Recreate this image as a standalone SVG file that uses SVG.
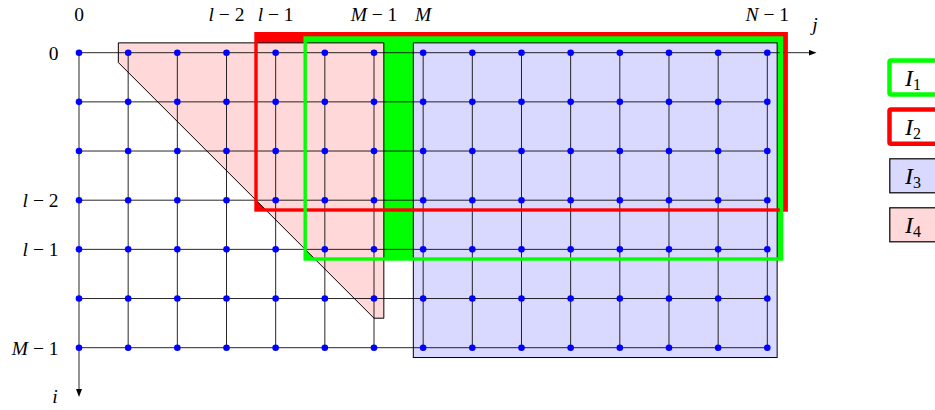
<svg xmlns="http://www.w3.org/2000/svg" width="935" height="410" viewBox="0 0 935 410">
<style>
.grid{stroke:#000;stroke-width:0.85;fill:none}
.dot{fill:#0000ff}
.lbl{font-family:"Liberation Serif",serif;font-size:19.5px;fill:#000}
.it{font-style:italic}
.leg{font-family:"Liberation Serif",serif;font-size:24px;fill:#000}
.sub{font-size:16px}
</style>
<defs>
<marker id="arr" viewBox="0 0 8 6" refX="1" refY="3" markerWidth="8" markerHeight="6" markerUnits="userSpaceOnUse" orient="auto">
<path d="M0,0 L8,3 L0,6 z" fill="#000"/>
</marker>
</defs>
<rect width="935" height="410" fill="#fff"/>
<g id="regions-fill">
<rect id="I2-fill" x="256" y="33.7" width="530.2" height="176.3" fill="#ff0000"/>
<rect id="I1-fill" x="305.16" y="38" width="476.34" height="221" fill="#00ff00"/>
<polygon id="I4" points="118.33,42.87 383.83,42.87 383.83,318.19 374,318.19 118.33,62.53" fill="#ffd9d9" stroke="#000" stroke-width="1"/>
<rect id="I3" x="413.32" y="42.87" width="363.82" height="314.65" fill="#d9d9ff" stroke="#000" stroke-width="1"/>
</g>
<g id="connectors">
<g class="grid">
<path d="M79,101.87H767.31M79,151.03H767.31M79,200.2H767.31M79,249.36H767.31M79,298.53H767.31M79,347.69H767.31"/>
<path d="M128.17,52.7V347.69M177.33,52.7V347.69M226.5,52.7V347.69M275.66,52.7V347.69M324.83,52.7V347.69M374,52.7V347.69M423.16,52.7V347.69M472.32,52.7V347.69M521.49,52.7V347.69M570.65,52.7V347.69M619.82,52.7V347.69M668.98,52.7V347.69M718.15,52.7V347.69M767.31,52.7V347.69"/>
<path d="M79,52.7H809.5" marker-end="url(#arr)"/>
<path d="M79,52.7V390" marker-end="url(#arr)"/>
</g>
</g>
<g id="regions-stroke" fill="none" stroke-width="3.4">
<rect id="I2" x="256" y="33.7" width="530.2" height="176.3" stroke="#ff0000"/>
<rect id="I1" x="305.16" y="38" width="476.34" height="221" stroke="#00ff00"/>
</g>
<g id="nodes" class="dot">
<g id="row0"><circle cx="79" cy="52.7" r="3.3"/><circle cx="128.17" cy="52.7" r="3.3"/><circle cx="177.33" cy="52.7" r="3.3"/><circle cx="226.5" cy="52.7" r="3.3"/><circle cx="275.66" cy="52.7" r="3.3"/><circle cx="324.83" cy="52.7" r="3.3"/><circle cx="374" cy="52.7" r="3.3"/><circle cx="423.16" cy="52.7" r="3.3"/><circle cx="472.32" cy="52.7" r="3.3"/><circle cx="521.49" cy="52.7" r="3.3"/><circle cx="570.65" cy="52.7" r="3.3"/><circle cx="619.82" cy="52.7" r="3.3"/><circle cx="668.98" cy="52.7" r="3.3"/><circle cx="718.15" cy="52.7" r="3.3"/><circle cx="767.31" cy="52.7" r="3.3"/></g>
<g id="row1"><circle cx="79" cy="101.87" r="3.3"/><circle cx="128.17" cy="101.87" r="3.3"/><circle cx="177.33" cy="101.87" r="3.3"/><circle cx="226.5" cy="101.87" r="3.3"/><circle cx="275.66" cy="101.87" r="3.3"/><circle cx="324.83" cy="101.87" r="3.3"/><circle cx="374" cy="101.87" r="3.3"/><circle cx="423.16" cy="101.87" r="3.3"/><circle cx="472.32" cy="101.87" r="3.3"/><circle cx="521.49" cy="101.87" r="3.3"/><circle cx="570.65" cy="101.87" r="3.3"/><circle cx="619.82" cy="101.87" r="3.3"/><circle cx="668.98" cy="101.87" r="3.3"/><circle cx="718.15" cy="101.87" r="3.3"/><circle cx="767.31" cy="101.87" r="3.3"/></g>
<g id="row2"><circle cx="79" cy="151.03" r="3.3"/><circle cx="128.17" cy="151.03" r="3.3"/><circle cx="177.33" cy="151.03" r="3.3"/><circle cx="226.5" cy="151.03" r="3.3"/><circle cx="275.66" cy="151.03" r="3.3"/><circle cx="324.83" cy="151.03" r="3.3"/><circle cx="374" cy="151.03" r="3.3"/><circle cx="423.16" cy="151.03" r="3.3"/><circle cx="472.32" cy="151.03" r="3.3"/><circle cx="521.49" cy="151.03" r="3.3"/><circle cx="570.65" cy="151.03" r="3.3"/><circle cx="619.82" cy="151.03" r="3.3"/><circle cx="668.98" cy="151.03" r="3.3"/><circle cx="718.15" cy="151.03" r="3.3"/><circle cx="767.31" cy="151.03" r="3.3"/></g>
<g id="row3"><circle cx="79" cy="200.2" r="3.3"/><circle cx="128.17" cy="200.2" r="3.3"/><circle cx="177.33" cy="200.2" r="3.3"/><circle cx="226.5" cy="200.2" r="3.3"/><circle cx="275.66" cy="200.2" r="3.3"/><circle cx="324.83" cy="200.2" r="3.3"/><circle cx="374" cy="200.2" r="3.3"/><circle cx="423.16" cy="200.2" r="3.3"/><circle cx="472.32" cy="200.2" r="3.3"/><circle cx="521.49" cy="200.2" r="3.3"/><circle cx="570.65" cy="200.2" r="3.3"/><circle cx="619.82" cy="200.2" r="3.3"/><circle cx="668.98" cy="200.2" r="3.3"/><circle cx="718.15" cy="200.2" r="3.3"/><circle cx="767.31" cy="200.2" r="3.3"/></g>
<g id="row4"><circle cx="79" cy="249.36" r="3.3"/><circle cx="128.17" cy="249.36" r="3.3"/><circle cx="177.33" cy="249.36" r="3.3"/><circle cx="226.5" cy="249.36" r="3.3"/><circle cx="275.66" cy="249.36" r="3.3"/><circle cx="324.83" cy="249.36" r="3.3"/><circle cx="374" cy="249.36" r="3.3"/><circle cx="423.16" cy="249.36" r="3.3"/><circle cx="472.32" cy="249.36" r="3.3"/><circle cx="521.49" cy="249.36" r="3.3"/><circle cx="570.65" cy="249.36" r="3.3"/><circle cx="619.82" cy="249.36" r="3.3"/><circle cx="668.98" cy="249.36" r="3.3"/><circle cx="718.15" cy="249.36" r="3.3"/><circle cx="767.31" cy="249.36" r="3.3"/></g>
<g id="row5"><circle cx="79" cy="298.53" r="3.3"/><circle cx="128.17" cy="298.53" r="3.3"/><circle cx="177.33" cy="298.53" r="3.3"/><circle cx="226.5" cy="298.53" r="3.3"/><circle cx="275.66" cy="298.53" r="3.3"/><circle cx="324.83" cy="298.53" r="3.3"/><circle cx="374" cy="298.53" r="3.3"/><circle cx="423.16" cy="298.53" r="3.3"/><circle cx="472.32" cy="298.53" r="3.3"/><circle cx="521.49" cy="298.53" r="3.3"/><circle cx="570.65" cy="298.53" r="3.3"/><circle cx="619.82" cy="298.53" r="3.3"/><circle cx="668.98" cy="298.53" r="3.3"/><circle cx="718.15" cy="298.53" r="3.3"/><circle cx="767.31" cy="298.53" r="3.3"/></g>
<g id="row6"><circle cx="79" cy="347.69" r="3.3"/><circle cx="128.17" cy="347.69" r="3.3"/><circle cx="177.33" cy="347.69" r="3.3"/><circle cx="226.5" cy="347.69" r="3.3"/><circle cx="275.66" cy="347.69" r="3.3"/><circle cx="324.83" cy="347.69" r="3.3"/><circle cx="374" cy="347.69" r="3.3"/><circle cx="423.16" cy="347.69" r="3.3"/><circle cx="472.32" cy="347.69" r="3.3"/><circle cx="521.49" cy="347.69" r="3.3"/><circle cx="570.65" cy="347.69" r="3.3"/><circle cx="619.82" cy="347.69" r="3.3"/><circle cx="668.98" cy="347.69" r="3.3"/><circle cx="718.15" cy="347.69" r="3.3"/><circle cx="767.31" cy="347.69" r="3.3"/></g>
</g>
<g id="labels" class="lbl">
<text x="79" y="21" text-anchor="middle">0</text>
<text x="226.5" y="21" text-anchor="middle"><tspan class="it">l</tspan> − 2</text>
<text x="275.66" y="21" text-anchor="middle"><tspan class="it">l</tspan> − 1</text>
<text x="374" y="21" text-anchor="middle"><tspan class="it">M</tspan> − 1</text>
<text x="423.16" y="21" text-anchor="middle" class="it">M</text>
<text x="767.31" y="21" text-anchor="middle"><tspan class="it">N</tspan> − 1</text>
<text x="815" y="31" text-anchor="middle" class="it">j</text>
<text x="58.5" y="59.5" text-anchor="end">0</text>
<text x="58.5" y="207" text-anchor="end"><tspan class="it">l</tspan> − 2</text>
<text x="58.5" y="256" text-anchor="end"><tspan class="it">l</tspan> − 1</text>
<text x="58.5" y="354.5" text-anchor="end"><tspan class="it">M</tspan> − 1</text>
<text x="55" y="403" text-anchor="middle" class="it">i</text>
</g>
<g id="legend">
<g id="leg-I1"><rect x="889.5" y="60.5" width="70" height="34" fill="#fff" stroke="#00ff00" stroke-width="4.5" rx="1.5"/><text class="leg" x="913" y="85.5" text-anchor="middle"><tspan class="it">I</tspan><tspan class="sub" dy="4">1</tspan></text></g>
<g id="leg-I2"><rect x="889.5" y="109.5" width="70" height="34.3" fill="#fff" stroke="#ff0000" stroke-width="4.5" rx="1.5"/><text class="leg" x="913" y="134.5" text-anchor="middle"><tspan class="it">I</tspan><tspan class="sub" dy="4">2</tspan></text></g>
<g id="leg-I3"><rect x="889.8" y="158.8" width="70" height="34" fill="#d9d9ff" stroke="#000" stroke-width="1.2"/><text class="leg" x="913" y="183.5" text-anchor="middle"><tspan class="it">I</tspan><tspan class="sub" dy="4">3</tspan></text></g>
<g id="leg-I4"><rect x="889.8" y="207.8" width="70" height="34" fill="#ffd9d9" stroke="#000" stroke-width="1.2"/><text class="leg" x="913" y="232.5" text-anchor="middle"><tspan class="it">I</tspan><tspan class="sub" dy="4">4</tspan></text></g>
</g>
</svg>
